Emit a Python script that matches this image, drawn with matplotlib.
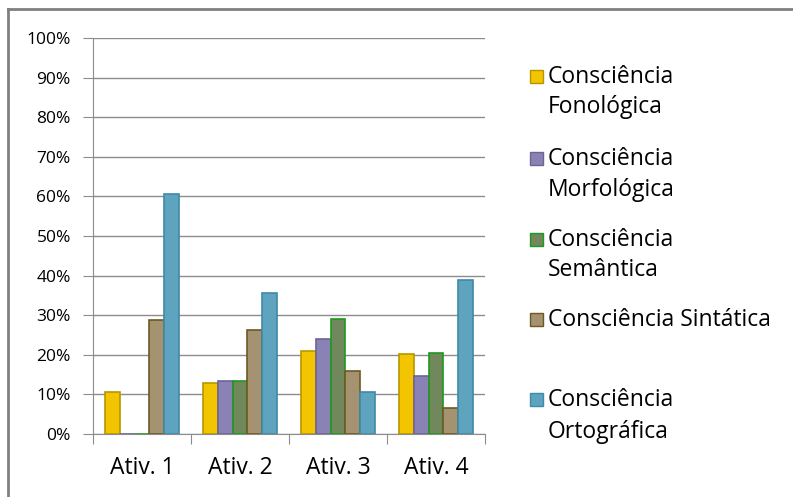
import matplotlib
matplotlib.use('Agg')
import matplotlib.pyplot as plt
import matplotlib.patches as mpatches
import numpy as np

plt.rcParams['font.family'] = ['Open Sans', 'DejaVu Sans']

categories = ['Ativ. 1', 'Ativ. 2', 'Ativ. 3', 'Ativ. 4']
series_names = [['Consciência', 'Fonológica'], ['Consciência', 'Morfológica'],
                ['Consciência', 'Semântica'], ['Consciência Sintática'],
                ['Consciência', 'Ortográfica']]
fonologica = [10.5, 13.0, 21.0, 20.3]
morfologica = [0.0, 13.3, 24.0, 14.7]
semantica = [0.0, 13.3, 29.0, 20.5]
sintatica = [28.8, 26.3, 16.0, 6.5]
ortografica = [60.6, 35.5, 10.5, 39.0]
values = [fonologica, morfologica, semantica, sintatica, ortografica]

faces = ['#f2c500', '#8a82b4', '#71875c', '#a59270', '#5ea4bf']
edges = ['#b89500', '#6c6494', '#1c9a1c', '#6b5a20', '#3f8aa8']

W, H = 793, 497
fig = plt.figure(figsize=(W / 100, H / 100), dpi=100)
ax = fig.add_axes([93 / W, 1 - 434 / H, 392 / W, 396 / H])

barWidth = 0.153
x = np.arange(len(categories))
for j, vals in enumerate(values):
    ax.bar(x + (j - 2) * barWidth, vals, width=barWidth, color=faces[j],
           edgecolor=edges[j], linewidth=1.2, zorder=3)

ax.set_xlim(-0.5, len(categories) - 0.5)
ax.set_ylim(0, 100)
ax.set_yticks(np.arange(0, 101, 10))
ax.set_yticklabels([f'{v}%' for v in range(0, 101, 10)], fontsize=12.5)
ax.yaxis.grid(True, color='#8c8c8c', linewidth=1, zorder=0)
ax.set_xticks(np.arange(-0.5, len(categories), 1.0))
ax.set_xticklabels([])
ax.set_xticks(x, minor=True)
ax.set_xticklabels(categories, minor=True, fontsize=16.5)
ax.tick_params(axis='x', which='minor', length=0, pad=16)
ax.tick_params(axis='x', which='major', length=7, color='#8c8c8c')
ax.tick_params(axis='y', length=7, color='#8c8c8c', pad=9)
for s in ['top', 'right']:
    ax.spines[s].set_visible(False)
ax.spines['left'].set_color('#8c8c8c')
ax.spines['bottom'].set_color('#8c8c8c')

# legend drawn by hand to match the layout (pixel rows of each text line)
leg_rows = [[77, 107], [159, 190], [240, 270], [320], [400, 432]]
for j, (lines, rows) in enumerate(zip(series_names, leg_rows)):
    y0 = 1 - rows[0] / H
    fig.patches.append(mpatches.Rectangle((530 / W, y0 - 6 / H), 13 / W, 13 / H,
                                          transform=fig.transFigure, facecolor=faces[j],
                                          edgecolor=edges[j], linewidth=1))
    for line, r in zip(lines, rows):
        fig.text(548 / W, 1 - r / H, line, fontsize=16.5, va='center', ha='left')

# outer frame
fig.add_artist(plt.Line2D([8 / W, 8 / W], [0, 1 - 9 / H], transform=fig.transFigure,
                          color='#808080', linewidth=2))
fig.add_artist(plt.Line2D([8 / W, 1], [1 - 9 / H, 1 - 9 / H], transform=fig.transFigure,
                          color='#808080', linewidth=2))

fig.savefig('out.png', dpi=100)
